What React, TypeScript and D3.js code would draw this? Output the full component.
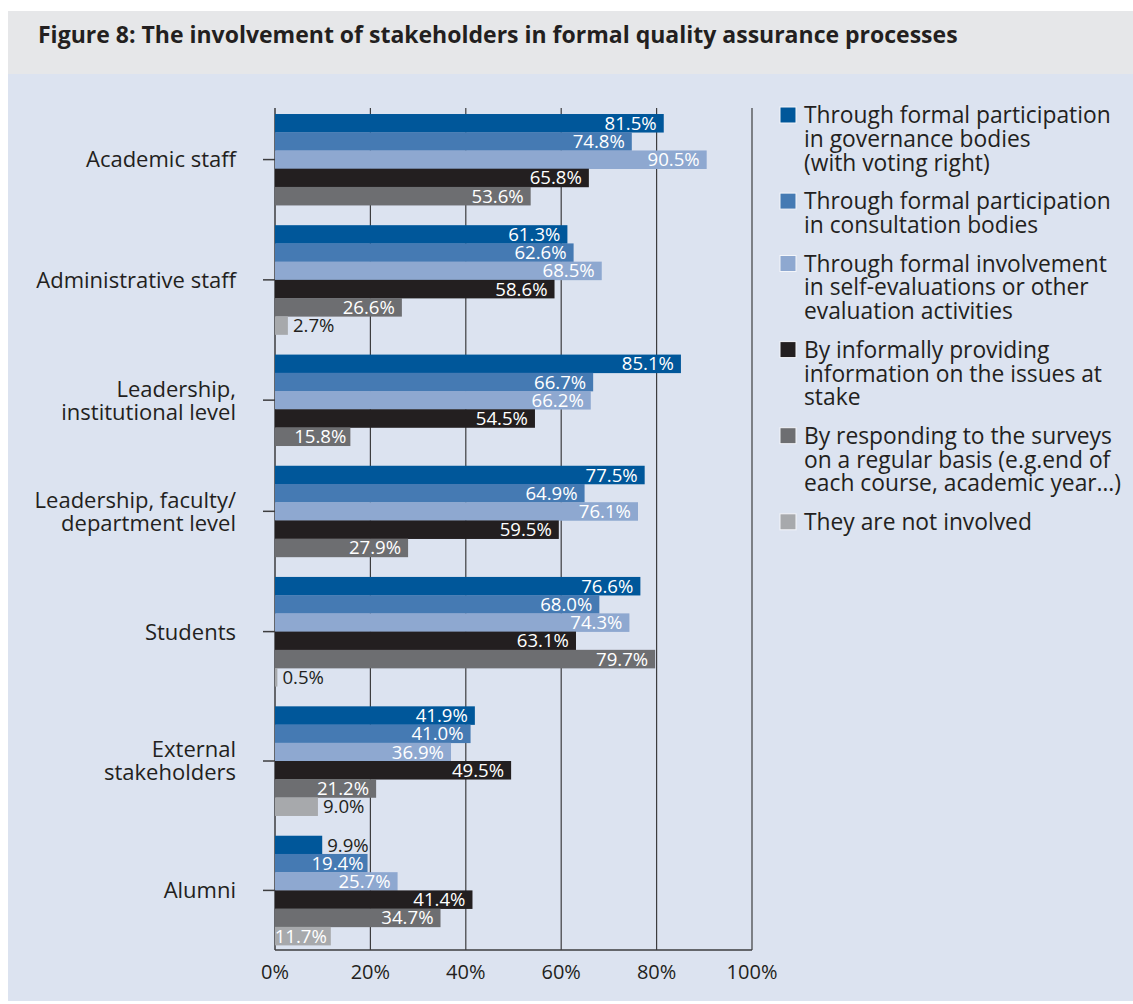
import React from "react";
import * as d3 from "d3";

const categories = [
  "Academic staff",
  "Administrative staff",
  "Leadership,\ninstitutional level",
  "Leadership, faculty/\ndepartment level",
  "Students",
  "External\nstakeholders",
  "Alumni",
];

const seriesNames = [
  "Through formal participation\nin governance bodies\n(with voting right)",
  "Through formal participation\nin consultation bodies",
  "Through formal involvement\nin self-evaluations or other\nevaluation activities",
  "By informally providing\ninformation on the issues at\nstake",
  "By responding to the surveys\non a regular basis (e.g.end of\neach course, academic year\u2026)",
  "They are not involved",
];

const governanceBodies = [81.5, 61.3, 85.1, 77.5, 76.6, 41.9, 9.9];
const consultationBodies = [74.8, 62.6, 66.7, 64.9, 68.0, 41.0, 19.4];
const selfEvaluations = [90.5, 68.5, 66.2, 76.1, 74.3, 36.9, 25.7];
const informalInfo = [65.8, 58.6, 54.5, 59.5, 63.1, 49.5, 41.4];
const surveys = [53.6, 26.6, 15.8, 27.9, 79.7, 21.2, 34.7];
const notInvolved: (number | null)[] = [null, 2.7, null, null, 0.5, 9.0, 11.7];

const seriesValues: (number | null)[][] = [
  governanceBodies,
  consultationBodies,
  selfEvaluations,
  informalInfo,
  surveys,
  notInvolved,
];

const seriesColors = ["#00579a", "#457ab3", "#8ea8d0", "#231f20", "#6d6e71", "#a7a9ac"];

const xTicks = [0, 20, 40, 60, 80, 100];

const title = "Figure 8: The involvement of stakeholders in formal quality assurance processes";

const FONT = "'Open Sans', 'Noto Sans', sans-serif";
const TEXT = "#231f20";

export default function App() {
  const left = 275;
  const right = 752;
  const top = 108;
  const bottom = 950;

  const x = d3.scaleLinear().domain([0, 100]).range([left, right]);

  // layout in bar units: top pad, bars, gaps between groups, bottom pad
  const topPad = 0.33;
  const groupGap = 1.1;
  const bottomPad = 0.27;
  const groups = categories.map((c, ci) => {
    const bars = seriesValues
      .map((vals, si) => ({ si, v: vals[ci] }))
      .filter((b) => b.v !== null && b.v !== undefined) as { si: number; v: number }[];
    return { name: c, bars };
  });
  let cursor = topPad;
  const placed = groups.map((g, gi) => {
    const start = cursor;
    cursor += g.bars.length;
    const end = cursor;
    if (gi < groups.length - 1) cursor += groupGap;
    return { ...g, start, end };
  });
  const totalUnits = cursor + bottomPad;
  const y = d3.scaleLinear().domain([0, totalUnits]).range([top, bottom]);

  const labelSize = 22;
  const valueSize = 18.6;
  const legendSize = 22.8;

  return (
    <svg
      width={1133}
      height={1004}
      style={{ position: "absolute", left: 0, top: 0, display: "block" }}
      fontFamily={FONT}
    >
      <rect x={8} y={11} width={1125} height={63} fill="#e6e7e9" />
      <rect x={8} y={74} width={1125} height={927} fill="#dce3f0" />
      <text x={38} y={43} fontSize={23} fontWeight={700} fill={TEXT}>
        {title}
      </text>

      {/* gridlines */}
      {xTicks.slice(1).map((t) => (
        <line key={t} x1={x(t)} x2={x(t)} y1={top} y2={bottom} stroke="#3d3d3f" strokeWidth={1.2} />
      ))}

      {/* axes */}
      <line x1={x(0)} x2={x(0)} y1={top} y2={bottom} stroke="#3d3d3f" strokeWidth={1.5} />
      <line x1={x(0)} x2={x(100)} y1={bottom} y2={bottom} stroke="#3d3d3f" strokeWidth={1.5} />

      {/* bars */}
      {placed.map((g, gi) =>
        g.bars.map((b, k) => {
          const y0 = y(g.start + k);
          const y1 = y(g.start + k + 1);
          const w = x(b.v) - x(0);
          const inside = b.v >= 10;
          const label = b.v.toFixed(1) + "%";
          return (
            <g key={gi + "-" + k}>
              <rect x={x(0)} y={y0} width={w} height={y1 - y0 + 0.3} fill={seriesColors[b.si]} />
              <text
                x={inside ? x(b.v) - (b.v < 20 ? 4 : 7) : x(b.v) + 5}
                y={(y0 + y1) / 2}
                dy="0.36em"
                textAnchor={inside ? "end" : "start"}
                fontSize={valueSize}
                fill={inside ? "#ffffff" : TEXT}
              >
                {label}
              </text>
            </g>
          );
        })
      )}

      {xTicks.map((t) => (
        <text key={t} x={x(t)} y={972} dy="0.36em" textAnchor="middle" fontSize={20} fill={TEXT}>
          {t + "%"}
        </text>
      ))}

      {/* category ticks and labels */}
      {placed.map((g, gi) => {
        const cy = y((g.start + g.end) / 2);
        const lines = g.name.split("\n");
        const lh = 23;
        return (
          <g key={"c" + gi}>
            <line x1={263} x2={x(0)} y1={cy} y2={cy} stroke="#3d3d3f" strokeWidth={1.5} />
            {lines.map((ln, li) => (
              <text
                key={li}
                x={236}
                y={cy + (li - (lines.length - 1) / 2) * lh}
                dy="0.36em"
                textAnchor="end"
                fontSize={labelSize}
                fill={TEXT}
              >
                {ln}
              </text>
            ))}
          </g>
        );
      })}

      {/* legend */}
      {(() => {
        let ly = 115;
        const lh = 23.7;
        return seriesNames.map((name, si) => {
          const lines = name.split("\n");
          const y0 = ly;
          ly += lines.length * lh + 15;
          return (
            <g key={"l" + si}>
              <rect x={780} y={y0 - 8} width={16} height={16} fill={seriesColors[si]} stroke="#f4f6fa" strokeWidth={1} />
              {lines.map((ln, li) => (
                <text key={li} x={804} y={y0 + li * lh} dy="0.36em" fontSize={legendSize} fill={TEXT}>
                  {ln}
                </text>
              ))}
            </g>
          );
        });
      })()}
    </svg>
  );
}
